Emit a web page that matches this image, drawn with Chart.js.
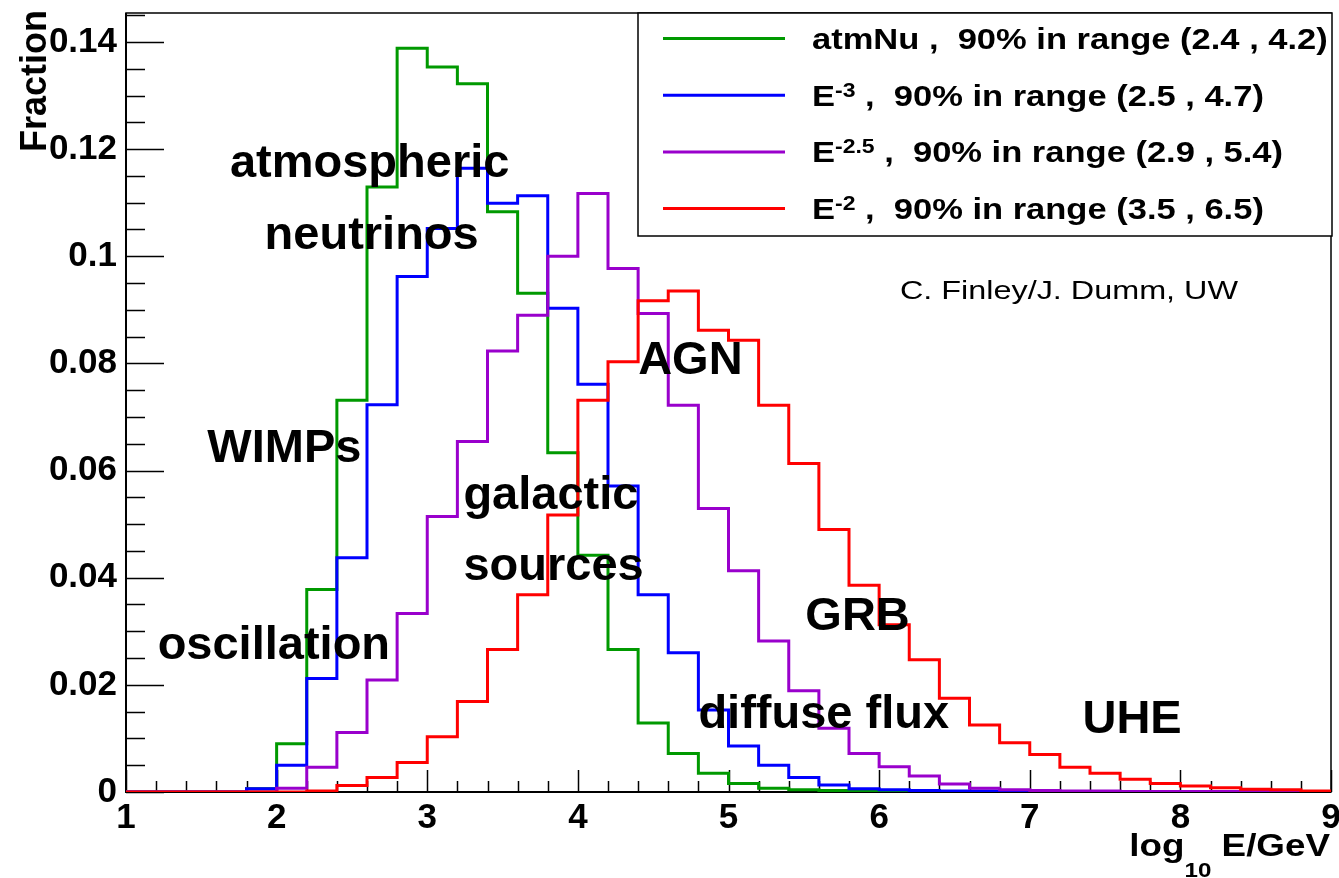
<!DOCTYPE html>
<html>
<head>
<meta charset="utf-8">
<script src="https://cdn.jsdelivr.net/npm/chart.js@4/dist/chart.umd.min.js"></script>
<style>
  html, body { margin: 0; padding: 0; background: #fff; }
  #wrap { width: 1339px; height: 878px; position: relative; }
</style>
</head>
<body>
<div id="wrap"><canvas id="chart-energy"></canvas></div>
<script>
// bin edges in log10 E/GeV (40 bins of 0.2)
const binEdges = [1.0, 1.2, 1.4, 1.6, 1.8, 2.0, 2.2, 2.4, 2.6, 2.8,
                  3.0, 3.2, 3.4, 3.6, 3.8, 4.0, 4.2, 4.4, 4.6, 4.8,
                  5.0, 5.2, 5.4, 5.6, 5.8, 6.0, 6.2, 6.4, 6.6, 6.8,
                  7.0, 7.2, 7.4, 7.6, 7.8, 8.0, 8.2, 8.4, 8.6, 8.8, 9.0];

const atmNuValues = [0, 0, 0, 0, 0.0006, 0.0090, 0.0378, 0.0731, 0.1129, 0.1388,
                     0.1353, 0.1322, 0.1083, 0.0931, 0.0633, 0.0442, 0.0266, 0.0129, 0.0072, 0.0035,
                     0.0016, 0.0007, 0.0004, 0.0003, 0.0001, 0, 0, 0, 0, 0,
                     0, 0, 0, 0, 0, 0, 0, 0, 0, 0];
const eMinus3Values = [0, 0, 0, 0, 0.0006, 0.0050, 0.0212, 0.0437, 0.0723, 0.0962,
                       0.1052, 0.1164, 0.1099, 0.1113, 0.0903, 0.0761, 0.0571, 0.0368, 0.0260, 0.0153,
                       0.0086, 0.0050, 0.0027, 0.0013, 0.0006, 0.0004, 0.0003, 0.0002, 0.0002, 0.0002,
                       0.0001, 0, 0, 0, 0, 0, 0, 0, 0, 0];
const eMinus25Values = [0, 0, 0, 0, 0, 0.0007, 0.0046, 0.0111, 0.0209, 0.0333,
                        0.0514, 0.0654, 0.0823, 0.0890, 0.1000, 0.1117, 0.0977, 0.0893, 0.0722, 0.0529,
                        0.0413, 0.0282, 0.0189, 0.0119, 0.0072, 0.0047, 0.0030, 0.0015, 0.0007, 0.0004,
                        0.0003, 0.0002, 0.0002, 0.0001, 0.0001, 0.0001, 0.0001, 0.0001, 0.0001, 0];
const eMinus2Values = [0, 0, 0, 0, 0, 0, 0.0002, 0.0012, 0.0027, 0.0055,
                       0.0103, 0.0169, 0.0266, 0.0368, 0.0517, 0.0731, 0.0803, 0.0917, 0.0935, 0.0862,
                       0.0843, 0.0722, 0.0613, 0.0490, 0.0386, 0.0312, 0.0247, 0.0175, 0.0125, 0.0092,
                       0.0070, 0.0046, 0.0035, 0.0024, 0.0016, 0.0011, 0.0008, 0.0005, 0.0004, 0.0002];

// legend entries
const seriesNames = ['atmNu', 'E', 'E', 'E'];
const seriesExponents = ['', '-3', '-2.5', '-2'];
const rangeLow = ['2.4', '2.5', '2.9', '3.5'];
const rangeHigh = ['4.2', '4.7', '5.4', '6.5'];

// axes
const xTicks = [1, 2, 3, 4, 5, 6, 7, 8, 9];
const xTickLabels = ['1', '2', '3', '4', '5', '6', '7', '8', '9'];
const yTicks = [0, 0.02, 0.04, 0.06, 0.08, 0.1, 0.12, 0.14];
const yTickLabels = ['0', '0.02', '0.04', '0.06', '0.08', '0.1', '0.12', '0.14'];

// physics labels, placed in data coordinates (left edge, baseline)
const noteTexts = ['atmospheric', 'neutrinos', 'WIMPs', 'galactic', 'sources',
                   'oscillation', 'AGN', 'GRB', 'diffuse flux', 'UHE'];
const noteX = [1.69, 1.92, 1.54, 3.24, 3.24, 1.21, 4.40, 5.51, 4.80, 7.35];
const noteY = [0.1148, 0.1013, 0.0616, 0.0529, 0.0396, 0.0249, 0.0781, 0.0302, 0.0119, 0.0110];

const FONT = "'Liberation Sans', Arial, Helvetica, sans-serif";

function histPoints(values) {
    // one point per left bin edge, last edge repeats the last bin
    return binEdges.map((x, i) => ({ x: x, y: values[Math.min(i, values.length - 1)] }));
}

const rootFrame = {
    id: 'rootFrame',
    beforeDatasetsDraw(chart) {
        const { ctx, chartArea: a, scales: { x, y } } = chart;
        ctx.save();
        ctx.strokeStyle = '#000';
        ctx.lineWidth = 1.5;
        ctx.strokeRect(a.left, a.top, a.right - a.left, a.bottom - a.top);
        ctx.lineWidth = 2;
        ctx.beginPath();
        ctx.moveTo(a.left, a.top);
        ctx.lineTo(a.left, a.bottom);
        ctx.lineTo(a.right, a.bottom);
        ctx.stroke();
        // inward ticks, ROOT style
        ctx.lineWidth = 1.5;
        ctx.beginPath();
        for (let i = 0; i <= 40; i++) {
            const px = Math.round(x.getPixelForValue(1 + i * 0.2)) + 0.5;
            ctx.moveTo(px, a.bottom);
            ctx.lineTo(px, a.bottom - (i % 5 === 0 ? 22 : 11));
        }
        for (let i = 0; i * 0.005 <= y.max; i++) {
            const py = Math.round(y.getPixelForValue(i * 0.005)) + 0.5;
            ctx.moveTo(a.left, py);
            ctx.lineTo(a.left + (i % 4 === 0 ? 38 : 19), py);
        }
        ctx.stroke();
        ctx.restore();
    }
};

const rootText = {
    id: 'rootText',
    afterDraw(chart) {
        const { ctx, scales: { x, y } } = chart;
        ctx.save();
        ctx.fillStyle = '#000';
        ctx.textBaseline = 'alphabetic';

        // labels on the plot
        ctx.font = 'bold 47px ' + FONT;
        noteTexts.forEach((t, i) => {
            ctx.fillText(t, x.getPixelForValue(noteX[i]), y.getPixelForValue(noteY[i]));
        });

        // legend box
        ctx.fillStyle = '#fff';
        ctx.fillRect(638, 13, 694, 223);
        ctx.strokeStyle = '#000';
        ctx.lineWidth = 1.5;
        ctx.strokeRect(638, 13, 694, 223);
        chart.data.datasets.forEach((ds, i) => {
            const ly = 38.5 + i * 56.7;
            ctx.strokeStyle = ds.borderColor;
            ctx.lineWidth = 3;
            ctx.beginPath();
            ctx.moveTo(663, ly);
            ctx.lineTo(785, ly);
            ctx.stroke();
            ctx.save();
            ctx.translate(812, ly + 10.5);
            ctx.scale(1.15, 1);
            ctx.fillStyle = '#000';
            ctx.font = 'bold 30px ' + FONT;
            ctx.fillText(seriesNames[i], 0, 0);
            let w = ctx.measureText(seriesNames[i]).width;
            if (seriesExponents[i]) {
                ctx.font = 'bold 20px ' + FONT;
                ctx.fillText(seriesExponents[i], w, -9);
                w += ctx.measureText(seriesExponents[i]).width;
                ctx.font = 'bold 30px ' + FONT;
            }
            ctx.fillText(' ,  90% in range (' + rangeLow[i] + ' , ' + rangeHigh[i] + ')', w, 0);
            ctx.restore();
        });

        // credit
        ctx.fillStyle = '#000';
        ctx.font = '26px ' + FONT;
        const credit = 'C. Finley/J. Dumm, UW';
        ctx.save();
        ctx.translate(900, 299);
        ctx.scale(338 / ctx.measureText(credit).width, 1);
        ctx.fillText(credit, 0, 0);
        ctx.restore();

        // y title
        ctx.save();
        ctx.font = 'bold 36px ' + FONT;
        ctx.translate(46, 10);
        ctx.rotate(-Math.PI / 2);
        ctx.textAlign = 'right';
        ctx.fillText('Fraction', 0, 0);
        ctx.restore();

        // x title: log_10 E/GeV, right aligned to the frame
        ctx.save();
        ctx.translate(1330, 856);
        ctx.scale(1.15, 1);
        ctx.font = 'bold 32px ' + FONT;
        const wTail = ctx.measureText(' E/GeV').width;
        const wLog = ctx.measureText('log').width;
        ctx.font = 'bold 21px ' + FONT;
        const wSub = ctx.measureText('10').width;
        let cx = -(wTail + wSub + wLog);
        ctx.font = 'bold 32px ' + FONT;
        ctx.fillText('log', cx, 0);
        cx += wLog;
        ctx.font = 'bold 21px ' + FONT;
        ctx.fillText('10', cx, 21);
        cx += wSub;
        ctx.font = 'bold 32px ' + FONT;
        ctx.fillText(' E/GeV', cx, 0);
        ctx.restore();

        ctx.restore();
    }
};

const lineStyle = { pointRadius: 0, borderWidth: 3, stepped: true, fill: false,
                    borderJoinStyle: 'miter', borderCapStyle: 'butt' };

const chartEnergyData = {
    datasets: [
        Object.assign({ label: 'atmNu', data: histPoints(atmNuValues), borderColor: '#009900', order: 4 }, lineStyle),
        Object.assign({ label: 'E-3', data: histPoints(eMinus3Values), borderColor: '#0000ff', order: 3 }, lineStyle),
        Object.assign({ label: 'E-2.5', data: histPoints(eMinus25Values), borderColor: '#9900cc', order: 2 }, lineStyle),
        Object.assign({ label: 'E-2', data: histPoints(eMinus2Values), borderColor: '#ff0000', order: 1 }, lineStyle)
    ]
};

const tickFont = { family: FONT, size: 35, weight: 'bold' };

const configEnergyChart = {
    type: 'line',
    data: chartEnergyData,
    options: {
        responsive: true,
        maintainAspectRatio: false,
        animation: false,
        layout: { padding: { top: 13, right: 8, left: 0, bottom: 0 } },
        plugins: { legend: { display: false }, tooltip: { enabled: false } },
        scales: {
            x: {
                type: 'linear',
                min: 1,
                max: 9,
                grid: { display: false, drawTicks: false },
                border: { display: false },
                afterBuildTicks: s => { s.ticks = xTicks.map(v => ({ value: v })); },
                afterFit: s => { s.height = 86; s.paddingLeft = 0; s.paddingRight = 0; },
                ticks: {
                    color: '#000', font: tickFont, padding: 5, maxRotation: 0, autoSkip: false,
                    callback: (v, i) => xTickLabels[i]
                }
            },
            y: {
                type: 'linear',
                min: 0,
                max: 0.1454,
                grid: { display: false, drawTicks: false },
                border: { display: false },
                afterBuildTicks: s => { s.ticks = yTicks.map(v => ({ value: v })); },
                afterFit: s => { s.width = 126; s.paddingTop = 0; s.paddingBottom = 0; },
                ticks: {
                    color: '#000', font: tickFont, padding: 9, autoSkip: false,
                    callback: (v, i) => yTickLabels[i]
                }
            }
        }
    },
    plugins: [rootFrame, rootText]
};

var chartEnergy = new Chart(document.getElementById('chart-energy'), configEnergyChart);
</script>
</body>
</html>
